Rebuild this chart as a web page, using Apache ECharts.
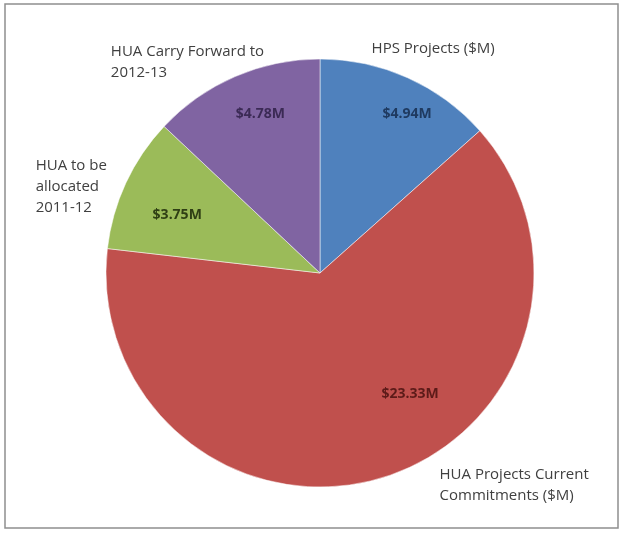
<!DOCTYPE html>
<html>
<head>
<meta charset="utf-8">
<script src="https://cdn.jsdelivr.net/npm/echarts@6/dist/echarts.min.js"></script>
<style>
  html, body { margin: 0; padding: 0; background: #fff; }
  #chart { width: 625px; height: 537px; }
</style>
</head>
<body>
<div id="chart"></div>
<script>
// slices, clockwise from 12 o'clock
var names = [
  'HPS Projects ($M)',
  'HUA Projects Current\nCommitments ($M)',
  'HUA to be\nallocated\n2011-12',
  'HUA Carry Forward to\n2012-13'
]
var values = [4.94, 23.33, 3.75, 4.78]
var colors = ['#4f81bd', '#c0504d', '#9bbb59', '#8064a2']
var valueColors = ['#1f3a60', '#5c1b19', '#2f3f14', '#3b2a55']

// nudges for the labels (Excel "best fit" placement)
var outerShift = [[-41, -29], [50, 8], [-14, 4], [34, -14]]
var innerShift = [[42, -59], [57, 16], [-43, -12], [-16, -58]]

var chart = echarts.init(document.getElementById('chart'))

var data = values.map(function(v, i) {
  return {
    name: names[i],
    value: v,
    itemStyle: { color: colors[i] },
    label: { color: valueColors[i] }
  }
})

chart.setOption({
  animation: false,
  graphic: [{
    type: 'rect',
    shape: { x: 5, y: 4, width: 613, height: 524 },
    style: { fill: 'none', stroke: '#8f8f8f', lineWidth: 1.5 },
    silent: true
  }],
  series: [{
    type: 'pie',
    radius: 214,
    center: [320, 273],
    startAngle: 90,
    clockwise: true,
    silent: true,
    itemStyle: { borderColor: 'rgba(255,255,255,0.5)', borderWidth: 1 },
    label: {
      position: 'inside',
      fontFamily: 'Open Sans',
      fontSize: 14,
      fontWeight: 'bold',
      formatter: function(p) { return '$' + p.value.toFixed(2) + 'M' }
    },
    labelLine: { show: false },
    labelLayout: function(p) {
      var s = innerShift[p.dataIndex]
      return { dx: s[0], dy: s[1] }
    },
    data: data
  }, {
    type: 'pie',
    radius: 214,
    center: [320, 273],
    startAngle: 90,
    clockwise: true,
    silent: true,
    itemStyle: { color: 'transparent' },
    label: {
      position: 'outside',
      fontFamily: 'Open Sans',
      fontSize: 15,
      lineHeight: 21,
      color: '#404040',
      formatter: '{b}'
    },
    labelLine: { show: false, length: 0, length2: 0 },
    labelLayout: function(p) {
      var s = outerShift[p.dataIndex]
      return {
        x: p.labelRect.x + s[0],
        y: p.labelRect.y + s[1],
        align: 'left',
        verticalAlign: 'top'
      }
    },
    data: values.map(function(v, i) { return { name: names[i], value: v } })
  }]
})
</script>
</body>
</html>
